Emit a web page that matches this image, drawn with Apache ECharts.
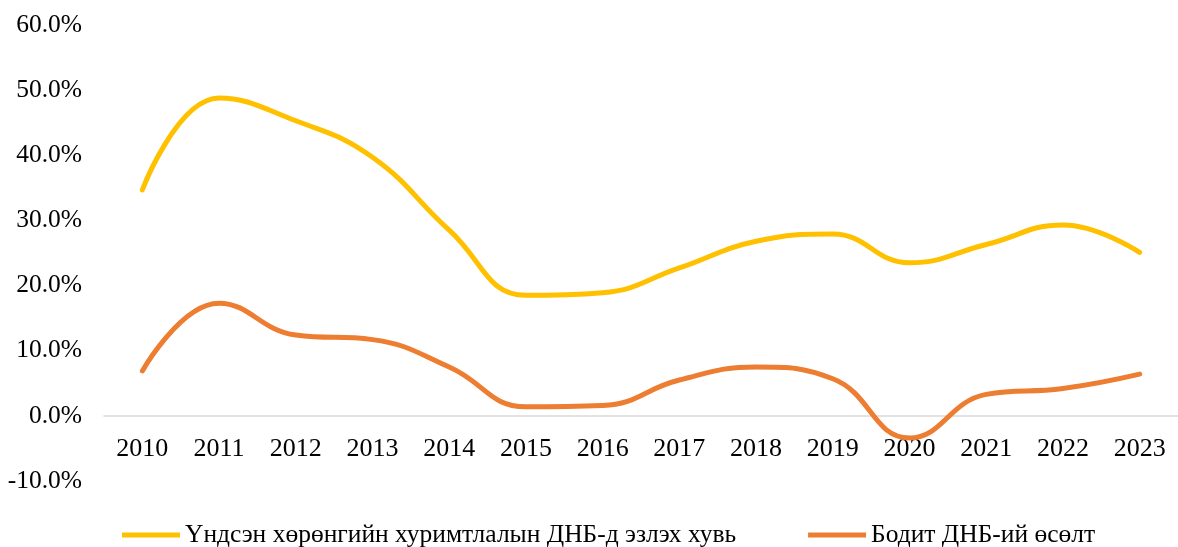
<!DOCTYPE html>
<html><head><meta charset="utf-8">
<script src="https://cdn.jsdelivr.net/npm/echarts@6/dist/echarts.min.js"></script>
<style>html,body{margin:0;padding:0;background:#fff}#c{width:1178px;height:547px}</style>
</head><body><div id="c"></div>
<script>
const categories = ['2010','2011','2012','2013','2014','2015','2016','2017','2018','2019','2020','2021','2022','2023'];
const investmentShare = [34.7, 48.8, 45.3, 39.7, 28.5, 18.5, 18.9, 22.7, 26.8, 27.9, 23.5, 26.3, 29.3, 25.1];
const realGdpGrowth = [6.9, 17.3, 12.4, 11.7, 7.5, 1.4, 1.6, 5.5, 7.5, 5.7, -3.4, 3.3, 4.2, 6.4];
const seriesNames = ['Үндсэн хөрөнгийн хуримтлалын ДНБ-д эзлэх хувь', 'Бодит ДНБ-ий өсөлт'];
const yTicks = {min: -10, max: 60, interval: 10};

const font = 'Liberation Serif';
const chart = echarts.init(document.getElementById('c'));
chart.setOption({
  animation: false,
  grid: {left: 104, top: 25, width: 1084, height: 456},
  legend: {
    top: 521, left: 122, padding: 0,
    itemWidth: 58, itemHeight: 5, itemGap: 72,
    icon: 'rect',
    textStyle: {fontFamily: font, fontSize: 25.5, color: '#000', lineHeight: 28},
    data: seriesNames
  },
  xAxis: {
    type: 'category', data: categories, boundaryGap: true,
    axisLine: {onZero: true, lineStyle: {color: '#d9d9d9', width: 1.5}},
    axisTick: {show: false},
    axisLabel: {fontFamily: font, fontSize: 26, color: '#000', margin: -45}
  },
  yAxis: {
    type: 'value', min: yTicks.min, max: yTicks.max, interval: yTicks.interval,
    splitLine: {show: false}, axisLine: {show: false}, axisTick: {show: false},
    axisLabel: {fontFamily: font, fontSize: 25.5, color: '#000', margin: 22,
      formatter: v => v.toFixed(1) + '%'}
  },
  series: [
    {name: seriesNames[0], type: 'line', data: investmentShare, smooth: 0.45, showSymbol: false,
     lineStyle: {color: '#FFC000', width: 5, cap: 'round'}, itemStyle: {color: '#FFC000'}},
    {name: seriesNames[1], type: 'line', data: realGdpGrowth, smooth: 0.45, showSymbol: false,
     lineStyle: {color: '#ED7D31', width: 5, cap: 'round'}, itemStyle: {color: '#ED7D31'}}
  ]
});
</script></body></html>
